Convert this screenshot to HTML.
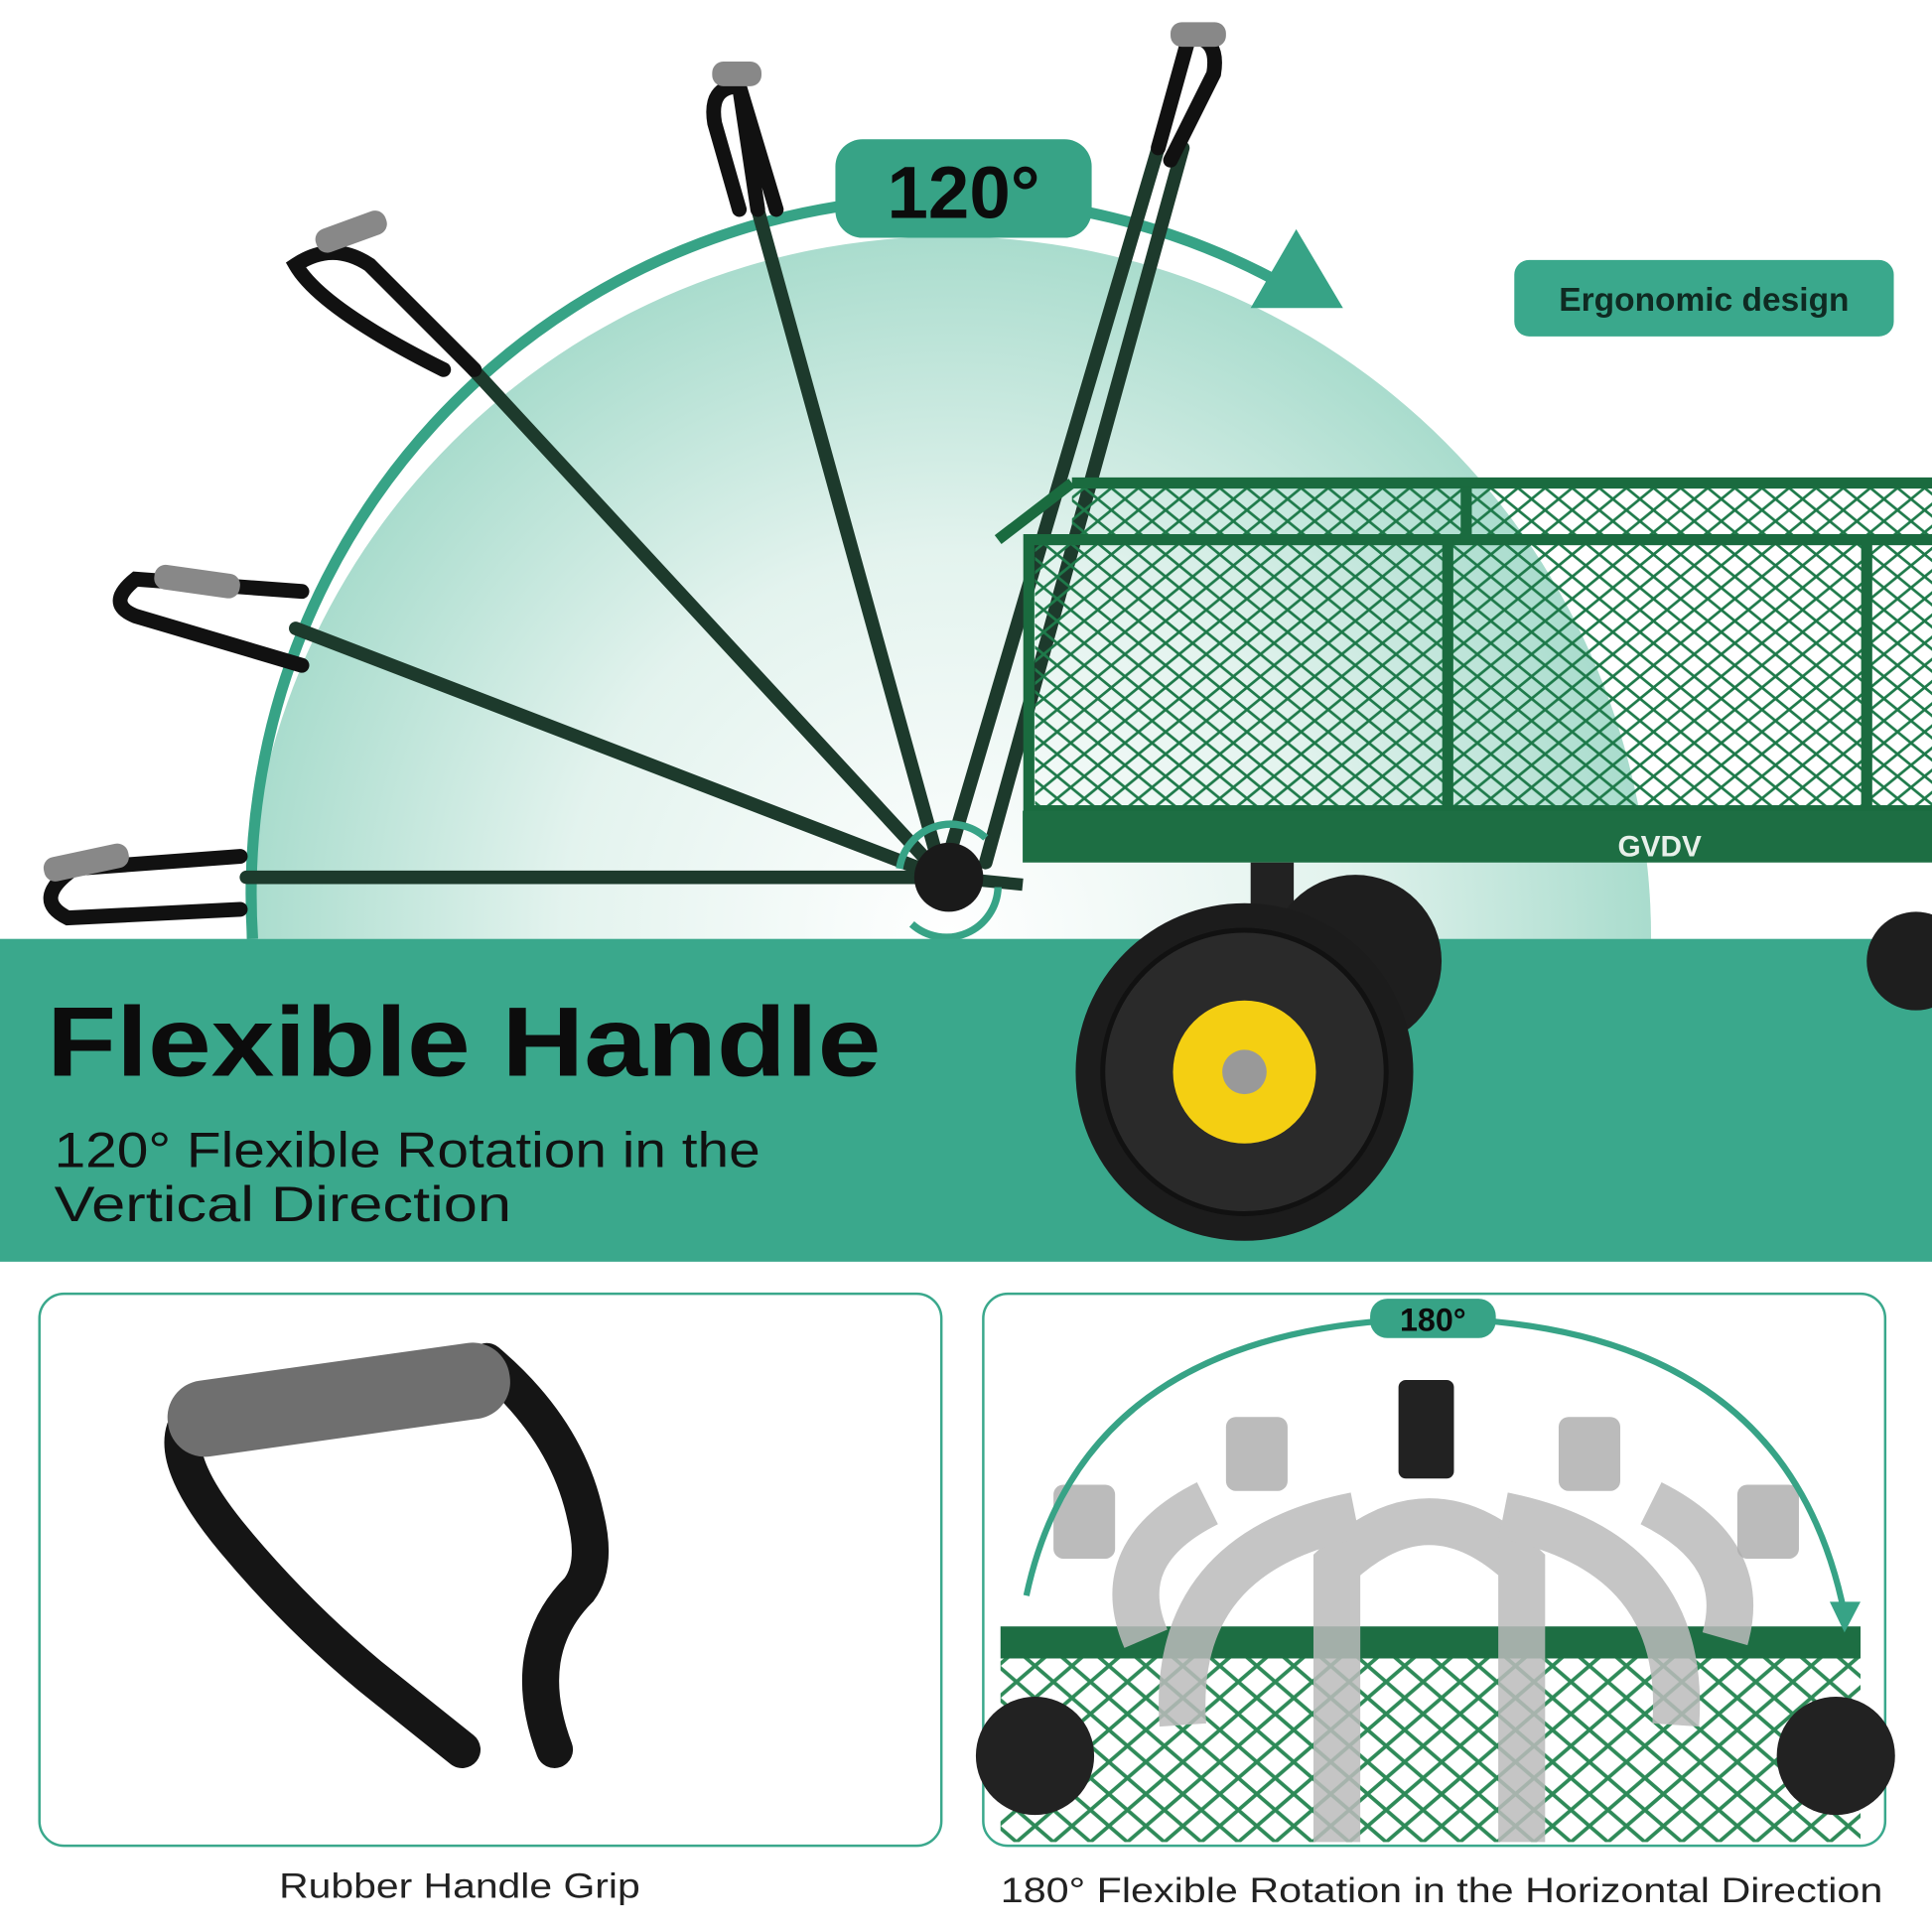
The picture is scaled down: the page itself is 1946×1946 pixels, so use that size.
<!DOCTYPE html>
<html><head><meta charset="utf-8"><style>
html,body{margin:0;padding:0;background:#fff}
svg{display:block}
text{font-family:"Liberation Sans",sans-serif}
</style></head><body>
<svg width="1946" height="1946" viewBox="0 0 1568 1568" xmlns="http://www.w3.org/2000/svg">
<defs>
<radialGradient id="g1" cx="770" cy="760" r="570" gradientUnits="userSpaceOnUse">
<stop offset="0" stop-color="#ffffff"/>
<stop offset="0.55" stop-color="#e3f3ee"/>
<stop offset="1" stop-color="#a9dccd"/>
</radialGradient>
<clipPath id="top"><rect x="0" y="0" width="1568" height="762"/></clipPath>
<pattern id="mesh" width="22" height="18" patternUnits="userSpaceOnUse">
<path d="M0 0 L22 18 M22 0 L0 18" stroke="#1e7a4a" stroke-width="2.2"/>
</pattern>
<pattern id="mesh2" width="30" height="26" patternUnits="userSpaceOnUse">
<path d="M0 0 L30 26 M30 0 L0 26" stroke="#2e8a58" stroke-width="3"/>
</pattern>
</defs>
<rect width="1568" height="1568" fill="#fff"/>
<circle cx="830" cy="760" r="510" fill="#e6f4ef" clip-path="url(#top)"/>
<path d="M200 762 A570 570 0 0 1 1340 762 Z" fill="url(#g1)"/>
<path d="M205 762 A565 565 0 0 1 1040 230" fill="none" stroke="#37a386" stroke-width="9"/>
<polygon points="1052,186 1090,250 1015,250" fill="#37a386"/>
<g stroke="#1d3a2c" stroke-width="11" stroke-linecap="round" fill="none">
<line x1="765" y1="712" x2="200" y2="712"/>
<line x1="765" y1="712" x2="240" y2="510"/>
<line x1="765" y1="712" x2="375" y2="290"/>
<line x1="765" y1="712" x2="615" y2="170"/>
<line x1="765" y1="712" x2="940" y2="120"/>
<line x1="800" y1="700" x2="960" y2="120"/>
</g>
<g stroke="#111" stroke-width="12" fill="none" stroke-linecap="round">
<path d="M195 695 L60 705 Q25 730 55 745 L195 738"/>
<path d="M245 480 L110 470 Q85 490 110 500 L245 540"/>
<path d="M385 300 L300 215 Q270 195 240 215 Q260 250 360 300"/>
<path d="M615 170 L600 70 Q575 70 580 100 L600 170 M600 70 L630 170"/>
<path d="M940 120 L965 30 Q990 30 985 60 L950 130"/>
</g>
<g fill="#888">
<rect x="35" y="690" width="70" height="20" rx="9" transform="rotate(-12 70 700)"/>
<rect x="125" y="462" width="70" height="20" rx="9" transform="rotate(8 160 472)"/>
<rect x="255" y="178" width="60" height="20" rx="9" transform="rotate(-20 285 188)"/>
<rect x="578" y="50" width="40" height="20" rx="9"/>
<rect x="950" y="18" width="45" height="20" rx="9"/>
</g>
<rect x="840" y="440" width="728" height="215" fill="url(#mesh)"/>
<rect x="870" y="395" width="698" height="45" fill="url(#mesh)"/>
<g stroke="#1a6b3f" stroke-width="9" fill="none">
<rect x="835" y="438" width="760" height="220"/>
<line x1="870" y1="392" x2="1568" y2="392"/>
<line x1="1175" y1="438" x2="1175" y2="655"/>
<line x1="1515" y1="438" x2="1515" y2="655"/>
<line x1="1190" y1="395" x2="1190" y2="438"/>
<line x1="810" y1="438" x2="870" y2="392"/>
</g>
<rect x="830" y="658" width="738" height="42" fill="#1d6e43"/>
<text x="1313" y="695" font-size="24" font-weight="bold" fill="#e8f0ea">GVDV</text>
<rect x="1015" y="700" width="35" height="70" fill="#222"/>
<line x1="770" y1="712" x2="830" y2="718" stroke="#1d3a2c" stroke-width="10"/>
<circle cx="770" cy="712" r="28" fill="#1a1a1a"/>
<path d="M730 705 A42 42 0 0 1 800 680 M810 720 A42 42 0 0 1 740 750" stroke="#37a386" stroke-width="6" fill="none"/>
<rect x="0" y="762" width="1568" height="262" fill="#3aa88c"/>
<circle cx="1100" cy="780" r="70" fill="#1e1e1e"/>
<circle cx="1555" cy="780" r="40" fill="#1e1e1e"/>
<circle cx="1010" cy="870" r="137" fill="#1c1c1c"/>
<circle cx="1010" cy="870" r="115" fill="#2a2a2a" stroke="#111" stroke-width="4"/>
<circle cx="1010" cy="870" r="58" fill="#f4cf12"/>
<circle cx="1010" cy="870" r="18" fill="#999"/>
<text x="38" y="873" font-size="80" font-weight="bold" fill="#0c0c0c" textLength="677" lengthAdjust="spacingAndGlyphs">Flexible Handle</text>
<text x="44" y="947" font-size="40" fill="#111" textLength="573" lengthAdjust="spacingAndGlyphs">120° Flexible Rotation in the</text>
<text x="44" y="991" font-size="40" fill="#111" textLength="371" lengthAdjust="spacingAndGlyphs">Vertical Direction</text>
<rect x="678" y="113" width="208" height="80" rx="22" fill="#37a386"/>
<text x="782" y="177" font-size="60" font-weight="bold" fill="#0c0c0c" text-anchor="middle">120°</text>
<rect x="1229" y="211" width="308" height="62" rx="12" fill="#3aa88c"/>
<text x="1383" y="252" font-size="27" font-weight="bold" fill="#0f2a22" text-anchor="middle">Ergonomic design</text>
<rect x="32" y="1050" width="732" height="448" rx="20" fill="#fff" stroke="#3aa88c" stroke-width="2"/>
<path d="M375 1420 L300 1360 Q240 1310 190 1250 Q140 1190 150 1160" stroke="#151515" stroke-width="30" fill="none" stroke-linecap="round"/>
<path d="M395 1105 Q460 1160 475 1230 Q485 1270 470 1290 Q420 1340 450 1420" stroke="#151515" stroke-width="30" fill="none" stroke-linecap="round"/>
<rect x="135" y="1105" width="280" height="62" rx="30" fill="#6f6f6f" transform="rotate(-8 275 1136)"/>
<text x="373" y="1540" font-size="28" fill="#222" text-anchor="middle" textLength="293" lengthAdjust="spacingAndGlyphs">Rubber Handle Grip</text>
<rect x="798" y="1050" width="732" height="448" rx="20" fill="#fff" stroke="#3aa88c" stroke-width="2"/>
<rect x="812" y="1345" width="698" height="150" fill="url(#mesh2)"/>
<rect x="812" y="1320" width="698" height="26" fill="#1d6e43"/>
<g fill="none" stroke="#bbb" stroke-width="38" opacity="0.85">
<path d="M1085 1495 L1085 1270 Q1160 1200 1235 1270 L1235 1495"/>
<path d="M960 1400 Q950 1260 1100 1230"/>
<path d="M1360 1400 Q1370 1260 1220 1230"/>
<path d="M930 1330 Q900 1260 980 1220"/>
<path d="M1400 1330 Q1420 1260 1340 1220"/>
</g>
<g fill="#aaa" opacity="0.8">
<rect x="995" y="1150" width="50" height="60" rx="8"/>
<rect x="1265" y="1150" width="50" height="60" rx="8"/>
<rect x="855" y="1205" width="50" height="60" rx="8"/>
<rect x="1410" y="1205" width="50" height="60" rx="8"/>
</g>
<rect x="1135" y="1120" width="45" height="80" rx="6" fill="#222"/>
<circle cx="840" cy="1425" r="48" fill="#222"/>
<circle cx="1490" cy="1425" r="48" fill="#222"/>
<path d="M833 1295 Q880 1075 1165 1070 Q1450 1075 1497 1310" fill="none" stroke="#37a386" stroke-width="5"/>
<polygon points="1485,1300 1510,1300 1497,1325" fill="#37a386"/>
<rect x="1112" y="1054" width="102" height="32" rx="14" fill="#37a386"/>
<text x="1163" y="1080" font-size="26" font-weight="bold" fill="#0c0c0c" text-anchor="middle">180°</text>
<text x="1170" y="1544" font-size="28" fill="#222" text-anchor="middle" textLength="716" lengthAdjust="spacingAndGlyphs">180° Flexible Rotation in the Horizontal Direction</text>
</svg>
</body></html>
